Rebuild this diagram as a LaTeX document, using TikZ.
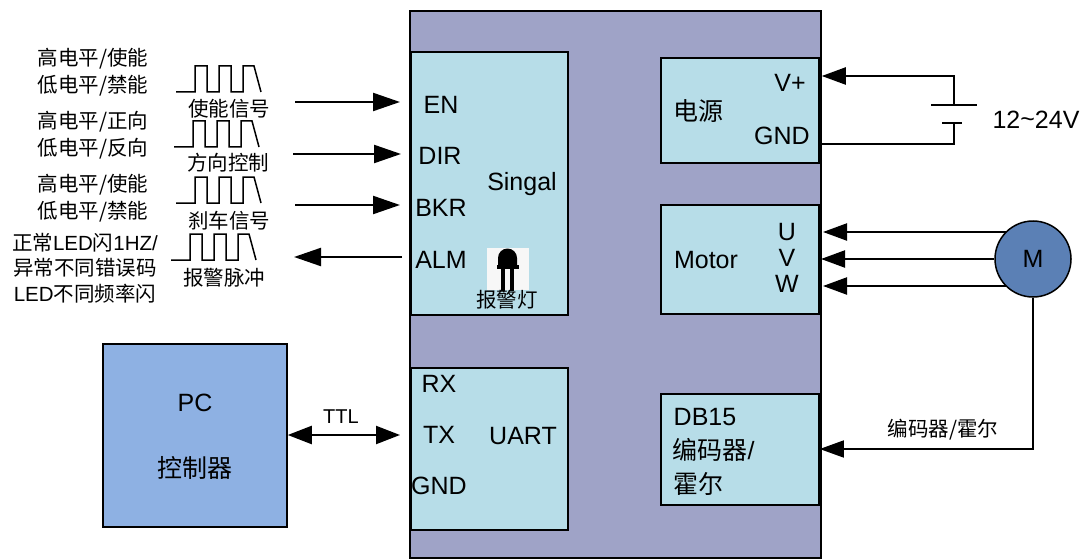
\documentclass[tikz,border=0pt]{standalone}
\usepackage{fontspec}
\setmainfont{Liberation Sans}
\newfontfamily\cjk{Noto Sans CJK SC}
\usetikzlibrary{arrows.meta}
\definecolor{mainfill}{HTML}{9FA3C7}
\definecolor{boxfill}{HTML}{B7DDE8}
\definecolor{pcfill}{HTML}{8EB1E3}
\definecolor{motorfill}{HTML}{5B80B5}
\newcommand{\zh}[1]{{\cjk #1}}

\begin{document}
\begin{tikzpicture}[
    x=1pt, y=-1pt,
    panel/.style={draw=black, line width=1.5pt, fill=boxfill, inner sep=0pt},
    wire/.style={line width=2.2pt},
    sigarrow/.style={wire, -{Triangle[length=27pt,width=18pt]}},
    pwrarrow/.style={wire, -{Triangle[length=24pt,width=17pt]}},
    wave/.style={line width=1.5pt},
    pin/.style={font=\fontsize{25}{29}\selectfont},
    note/.style={font=\fontsize{20.5}{24}\selectfont\cjk},
    small/.style={font=\fontsize{20.5}{25.5}\selectfont, align=center}
]
    \useasboundingbox (0,0) rectangle (1087,559);

    % Driver body
    \node[panel, fill=mainfill, minimum width=411pt, minimum height=547pt] (main) at (615.5,284.5) {};

    % Blocks
    \node[panel, minimum width=157pt, minimum height=263pt] (signal) at (489.5,183.5) {};
    \node[panel, minimum width=157pt, minimum height=162pt] (uart) at (489.5,449) {};
    \node[panel, minimum width=158pt, minimum height=105pt] (power) at (740,110.5) {};
    \node[panel, minimum width=158pt, minimum height=109pt] (motor) at (740,259.5) {};
    \node[panel, minimum width=158pt, minimum height=111pt] (db) at (740,449.5) {};
    \node[panel, fill=pcfill, minimum width=184pt, minimum height=183pt] (pc) at (195,435.5) {};

    % Signal pins
    \node[pin] (en) at (441,105) {EN};
    \node[pin] (dir) at (440,156) {DIR};
    \node[pin] (bkr) at (441,208) {BKR};
    \node[pin] (alm) at (441,260) {ALM};
    \node[pin] (singal) at (522,184) {Singal};

    % Alarm lamp
    \fill[white!97!black] (487,248) rectangle (529,290);
    \fill[black] (498,265) -- (498,258) arc[start angle=180, end angle=0, radius=9.5pt] -- (517,265) -- cycle;
    \fill[black] (497,265) rectangle (519,268.5);
    \fill[black] (501,269) rectangle (505,291);
    \fill[black] (510,269) rectangle (514,291);
    \node[note] (lamp) at (507,300) {报警灯};

    % Pulse trains
    \foreach \dx/\dy in {0/0, -2/55, 0/111, -5/168} {
        \draw[wave] (176+\dx,92+\dy) -- (195+\dx,92+\dy) -- (195+\dx,66+\dy) -- (207+\dx,66+\dy)
            -- (207+\dx,92+\dy) -- (219+\dx,92+\dy) -- (219+\dx,66+\dy) -- (231+\dx,66+\dy)
            -- (231+\dx,92+\dy) -- (243+\dx,92+\dy) -- (243+\dx,66+\dy) -- (254+\dx,66+\dy)
            -- (261+\dx,92+\dy);
    }

    % Signal notes
    \node[note] (n1a) at (93,59) {高电平/使能};
    \node[note] (n1b) at (93,86) {低电平/禁能};
    \node[note] (n2a) at (93,122) {高电平/正向};
    \node[note] (n2b) at (93,149) {低电平/反向};
    \node[note] (n3a) at (93,185) {高电平/使能};
    \node[note] (n3b) at (93,212) {低电平/禁能};
    \node[small] (n4) at (85,268) {\zh{正常}LED\zh{闪}1HZ/\\\zh{异常不同错误码}\\LED\zh{不同频率闪}};
    \node[note] (s1) at (229,109) {使能信号};
    \node[note] (s2) at (228,163) {方向控制};
    \node[note] (s3) at (229,221) {刹车信号};
    \node[note] (s4) at (224,278) {报警脉冲};

    % Signal arrows
    \coordinate (a1) at (295,102);
    \coordinate (b1) at (400,102);
    \coordinate (a2) at (293,154);
    \coordinate (b2) at (401,154);
    \coordinate (a3) at (295,205);
    \coordinate (b3) at (400,205);
    \coordinate (a4) at (402,257);
    \coordinate (b4) at (294,257);
    \draw[sigarrow] (a1) -- (b1);
    \draw[sigarrow] (a2) -- (b2);
    \draw[sigarrow] (a3) -- (b3);
    \draw[sigarrow] (a4) -- (b4);

    % UART
    \node[pin] (rx) at (439,384) {RX};
    \node[pin] (tx) at (439,435) {TX};
    \node[pin] (gnd2) at (439,486) {GND};
    \node[pin] (uartlab) at (523,436) {UART};
    \node[pin] (pclab) at (195,403) {PC};
    \node[font=\fontsize{25}{29}\selectfont\cjk] (ctrl) at (195,468) {控制器};
    \node[font=\fontsize{20}{24}\selectfont] (ttl) at (341,417) {TTL};
    \coordinate (c1) at (400,435);
    \draw[wire, {Triangle[length=24pt,width=18pt]}-{Triangle[length=24pt,width=18pt]}] (pc.east |- c1) -- (c1);

    % Power
    \node[font=\fontsize{25}{29}\selectfont\cjk] (pwr) at (698,111) {电源};
    \node[pin] (vp) at (790,83) {V+};
    \node[pin] (gnd1) at (782,136) {GND};
    \coordinate (bat1) at (954,76);
    \coordinate (bat2) at (954,105);
    \coordinate (bat3) at (954,123);
    \coordinate (bat4) at (954,144);
    \draw[pwrarrow] (bat2) -- (bat1) -- (main.east |- bat1);
    \draw[wire] (bat3) -- (bat4) -- (main.east |- bat4);
    \draw[wire] (931,105) -- (977,105);
    \draw[wire] (942,123) -- (962,123);
    \node[pin] (volt) at (1036,120) {12\raisebox{0.1ex}{\textasciitilde}24V};

    % Motor
    \node[pin] (mot) at (706,260) {Motor};
    \node[pin] (u) at (787,232) {U};
    \node[pin] (v) at (787,258) {V};
    \node[pin] (w) at (787,284) {W};
    \node[circle, draw=black, line width=1.5pt, fill=motorfill, minimum size=76pt, inner sep=0pt,
          font=\fontsize{25}{29}\selectfont] (m) at (1033,259) {M};
    \coordinate (mu) at (823,232);
    \coordinate (mv) at (821,259);
    \coordinate (mw) at (823,286);
    \draw[pwrarrow] (m.south west |- mu) -- (mu);
    \draw[pwrarrow] (m.west) -- (mv);
    \draw[pwrarrow] (m.south west |- mw) -- (mw);

    % Encoder feedback
    \node[pin] (dbl) at (705,417) {DB15};
    \node[pin, anchor=west] (dbb) at (669,450) {\zh{编码器}/};
    \node[font=\fontsize{25}{29}\selectfont\cjk] (dbc) at (698,484) {霍尔};
    \node[font=\fontsize{20.5}{24}\selectfont\cjk] (enc) at (943,430) {编码器/霍尔};
    \coordinate (e1) at (1033,449);
    \draw[pwrarrow, line width=1.5pt] (m.south) -- (e1) -- (db.east |- e1);
\end{tikzpicture}
\end{document}
